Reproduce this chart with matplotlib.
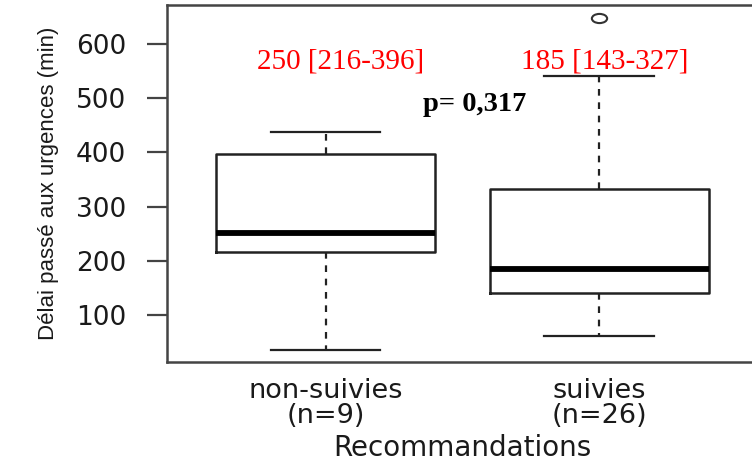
import matplotlib
matplotlib.use("Agg")
import matplotlib.pyplot as plt
from matplotlib.path import Path
from matplotlib.transforms import Affine2D

# ---- data ----
categories = ["non-suivies", "suivies"]
group_n = [9, 26]
whisker_low = [36, 62]
q1 = [216, 141]
median = [251, 185]
q3 = [397, 332]
whisker_high = [438, 541]
outliers = [[], [648]]
summary_labels = ["250 [216-396]", "185 [143-327]"]
p_label = "p= 0,317"
y_ticks = [100, 200, 300, 400, 500, 600]
x_title = "Recommandations"
y_title = "Délai passé aux urgences (min)"

fig = plt.figure(figsize=(7.52, 4.66), dpi=100)
ax = fig.add_axes([0.2221, 0.2225, 0.7856, 0.7667])

stats = []
for i, cat in enumerate(categories):
    stats.append(dict(label=f"{cat}\n(n={group_n[i]})", whislo=whisker_low[i], q1=q1[i],
                      med=median[i], q3=q3[i], whishi=whisker_high[i], fliers=outliers[i]))

# flattened circle marker (the reference plot is stretched horizontally)
ellipse = Path.unit_circle().transformed(Affine2D().scale(1.0, 0.6))

positions = list(range(1, len(categories) + 1))
ax.bxp(stats, positions=positions, widths=0.8, capwidths=0.4, showfliers=True,
       boxprops=dict(color="#222222", linewidth=1.8),
       medianprops=dict(color="black", linewidth=4.2, solid_capstyle="butt"),
       whiskerprops=dict(color="#222222", linewidth=1.6, linestyle=(0, (3, 3))),
       capprops=dict(color="#222222", linewidth=1.6),
       flierprops=dict(marker=ellipse, markersize=11, markerfacecolor="none",
                       markeredgecolor="#333333", markeredgewidth=1.5))

ax.set_xlim(0.42, 2.58)
ax.set_ylim(13.5, 671)
ax.set_yticks(y_ticks)
ax.set_yticklabels([str(t) for t in y_ticks])

for s in ax.spines.values():
    s.set_color("#444444")
    s.set_linewidth(1.8)

ax.tick_params(axis="y", length=14.5, width=1.6, color="#444444", pad=15,
               labelsize=19, labelcolor="#1a1a1a")
ax.tick_params(axis="x", length=0, pad=11, labelsize=19.5, labelcolor="#1a1a1a")
for lab in ax.get_xticklabels():
    lab.set_linespacing(0.95)

ax.set_xlabel(x_title, fontsize=20, color="#1a1a1a", labelpad=4)
ax.set_ylabel(y_title, fontsize=16, family="Liberation Sans", color="#1a1a1a", labelpad=12)

# annotations
ax.text(1.053, 555, summary_labels[0], color="red", fontsize=21,
        family="Liberation Serif", ha="center", va="baseline")
ax.text(2.02, 555, summary_labels[1], color="red", fontsize=21,
        family="Liberation Serif", ha="center", va="baseline")
ax.text(1.544, 476, p_label, color="black", fontsize=20.5, fontweight="bold",
        family="Liberation Serif", ha="center", va="baseline")

fig.savefig("out.png", dpi=100)
